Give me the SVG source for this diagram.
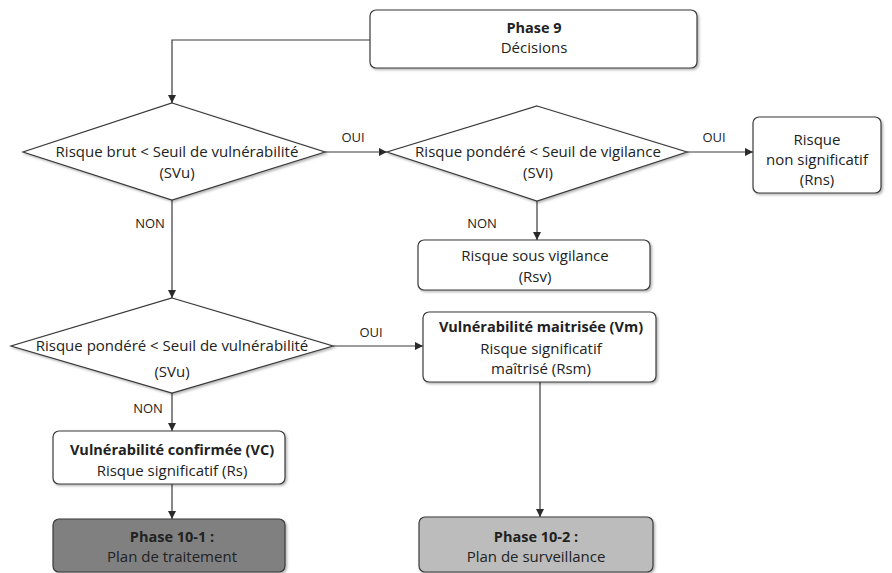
<svg xmlns="http://www.w3.org/2000/svg" width="892" height="573" viewBox="0 0 892 573">
  <style>
    .box { fill: #ffffff; stroke: #3a3a3a; stroke-width: 1.2; }
    .dia { fill: #ffffff; stroke: #3a3a3a; stroke-width: 1.2; }
    .t { font-family: "Open Sans", "Liberation Sans", Arial, sans-serif; font-size: 15px; fill: #222; text-anchor: middle; }
    .b { font-weight: bold; font-size: 14.5px; }
    .lbl { font-family: "Open Sans", "Liberation Sans", Arial, sans-serif; font-size: 13px; fill: #222; text-anchor: middle; }
    .edge { fill: none; stroke: #3a3a3a; stroke-width: 1.2; marker-end: url(#arrow); }
  </style>
  <defs>
    <marker id="arrow" viewBox="0 0 10 10" refX="10" refY="5" markerWidth="8" markerHeight="8" markerUnits="userSpaceOnUse" orient="auto">
      <path d="M0,0 L10,5 L0,10 Z" fill="#2a2a2a"/>
    </marker>
    <filter id="shadow" x="-10%" y="-10%" width="120%" height="130%">
      <feDropShadow dx="1.5" dy="1.5" stdDeviation="1.2" flood-color="#000" flood-opacity="0.3"/>
    </filter>
  </defs>
  <rect width="892" height="573" fill="#ffffff"/>

  <!-- connectors -->
  <g id="connectors">
    <path class="edge" d="M370,40 H172 V103"/>
    <path class="edge" d="M325,152 H387"/>
    <path class="edge" d="M687,152 H753"/>
    <path class="edge" d="M537,201 V240"/>
    <path class="edge" d="M172,200 V298"/>
    <path class="edge" d="M333,346 H423"/>
    <path class="edge" d="M172,393 V431"/>
    <path class="edge" d="M172,484 V519"/>
    <path class="edge" d="M540,382 V517"/>
    <text class="lbl" x="353" y="142">OUI</text>
    <text class="lbl" x="714" y="142">OUI</text>
    <text class="lbl" x="482" y="228">NON</text>
    <text class="lbl" x="150" y="228">NON</text>
    <text class="lbl" x="371" y="337">OUI</text>
    <text class="lbl" x="148" y="413">NON</text>
  </g>

  <g id="phase9">
    <rect class="box" x="370" y="10" width="327" height="58" rx="6" filter="url(#shadow)"/>
    <text class="t b" x="534" y="33">Phase 9</text>
    <text class="t" x="534" y="53">Décisions</text>
  </g>

  <g id="decision-brut">
    <polygon class="dia" points="172,103 325,152 172,200 23,152" filter="url(#shadow)"/>
    <text class="t" x="177" y="157">Risque brut &lt; Seuil de vulnérabilité</text>
    <text class="t" x="177" y="178">(SVu)</text>
  </g>

  <g id="decision-vigilance">
    <polygon class="dia" points="537,106 687,152 537,201 387,152" filter="url(#shadow)"/>
    <text class="t" x="538" y="157">Risque pondéré &lt; Seuil de vigilance</text>
    <text class="t" x="538" y="178">(SVi)</text>
  </g>

  <g id="rns">
    <rect class="box" x="753" y="117" width="128" height="76" rx="6" filter="url(#shadow)"/>
    <text class="t" x="817" y="145">Risque</text>
    <text class="t" x="817" y="165">non significatif</text>
    <text class="t" x="817" y="185">(Rns)</text>
  </g>

  <g id="rsv">
    <rect class="box" x="418" y="240" width="232" height="50" rx="6" filter="url(#shadow)"/>
    <text class="t" x="535" y="261">Risque sous vigilance</text>
    <text class="t" x="535" y="282">(Rsv)</text>
  </g>

  <g id="decision-pondere">
    <polygon class="dia" points="172,298 333,346 172,393 11,346" filter="url(#shadow)"/>
    <text class="t" x="172" y="351">Risque pondéré &lt; Seuil de vulnérabilité</text>
    <text class="t" x="172" y="377">(SVu)</text>
  </g>

  <g id="vm">
    <rect class="box" x="423" y="312" width="233" height="70" rx="6" filter="url(#shadow)"/>
    <text class="t b" x="541" y="332">Vulnérabilité maitrisée (Vm)</text>
    <text class="t" x="541" y="354">Risque significatif</text>
    <text class="t" x="541" y="374">maîtrisé (Rsm)</text>
  </g>

  <g id="vc">
    <rect class="box" x="53" y="431" width="232" height="53" rx="6" filter="url(#shadow)"/>
    <text class="t b" x="172" y="455">Vulnérabilité confirmée (VC)</text>
    <text class="t" x="172" y="476">Risque significatif (Rs)</text>
  </g>

  <g id="phase10-1">
    <rect class="box" x="53" y="519" width="232" height="53" rx="6" style="fill:#808080" filter="url(#shadow)"/>
    <text class="t b" x="172" y="542">Phase 10-1 :</text>
    <text class="t" x="172" y="562">Plan de traitement</text>
  </g>

  <g id="phase10-2">
    <rect class="box" x="419" y="517" width="234" height="55" rx="6" style="fill:#bcbcbc" filter="url(#shadow)"/>
    <text class="t b" x="536" y="542">Phase 10-2 :</text>
    <text class="t" x="536" y="562">Plan de surveillance</text>
  </g>
</svg>
